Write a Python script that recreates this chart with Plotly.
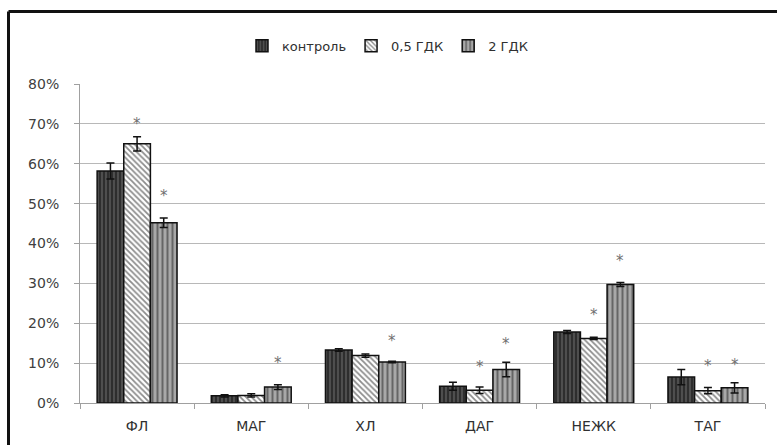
import plotly.graph_objects as go

categories = ["ФЛ", "МАГ", "ХЛ", "ДАГ", "НЕЖК", "ТАГ"]
series_names = ["контроль", "0,5 ГДК", "2 ГДК"]
control = [58.2, 1.8, 13.3, 4.2, 17.8, 6.5]
gdk05 = [65.0, 1.9, 11.9, 3.2, 16.2, 3.1]
gdk2 = [45.2, 4.0, 10.3, 8.4, 29.7, 3.8]
control_err = [2.0, 0.3, 0.3, 1.0, 0.4, 1.9]
gdk05_err = [1.8, 0.4, 0.4, 0.8, 0.3, 0.8]
gdk2_err = [1.2, 0.6, 0.2, 1.8, 0.5, 1.3]
# asterisk markers: (category, series index, height in %)
stars = [("ФЛ", 1, 70.0), ("ФЛ", 2, 52.0), ("МАГ", 2, 10.0), ("ХЛ", 2, 15.5),
         ("ДАГ", 1, 9.0), ("ДАГ", 2, 14.8), ("НЕЖК", 1, 22.0), ("НЕЖК", 2, 35.5),
         ("ТАГ", 1, 9.3), ("ТАГ", 2, 9.5)]

font = "DejaVu Sans"
styles = [
    dict(color="#2e2e2e", pattern=dict(shape="|", fgcolor="#8a8a8a", size=4, solidity=0.35)),
    dict(color="#ffffff", pattern=dict(shape="\\", fgcolor="#1a1a1a", size=4, solidity=0.45)),
    dict(color="#a8a8a8", pattern=dict(shape="|", fgcolor="#222222", size=5, solidity=0.4)),
]
vals = [control, gdk05, gdk2]
errs = [control_err, gdk05_err, gdk2_err]

fig = go.Figure()
for name, v, e, st in zip(series_names, vals, errs, styles):
    fig.add_trace(go.Bar(
        name=name, x=categories, y=[x / 100 for x in v],
        marker=dict(color=st["color"], pattern=st["pattern"],
                    line=dict(color="#111111", width=1.5)),
        error_y=dict(type="data", array=[x / 100 for x in e], color="#111111",
                     thickness=1.5, width=4),
    ))

bar_w = 685 / 6 * 0.7 / 3
for cat, si, h in stars:
    fig.add_annotation(x=cat, y=h / 100, xref="x", yref="y", text="*",
                       showarrow=False, xshift=(si - 1) * bar_w,
                       font=dict(size=15, color="#707070", family=font))

# outer frame (left and top edges visible in the picture)
left_x = (8.5 - 80) / 685
top_y = (403 - 11.5) / 319
fig.add_shape(type="line", xref="paper", yref="paper",
              x0=left_x, x1=left_x, y0=(403 - 460) / 319, y1=top_y,
              line=dict(color="#111111", width=3))
fig.add_shape(type="line", xref="paper", yref="paper",
              x0=left_x, x1=(800 - 80) / 685, y0=top_y, y1=top_y,
              line=dict(color="#111111", width=3))

fig.update_layout(
    width=777, height=445,
    margin=dict(l=80, r=12, t=84, b=42),
    paper_bgcolor="white", plot_bgcolor="white",
    barmode="group", bargap=0.3, bargroupgap=0,
    font=dict(family=font, size=14, color="#404040"),
    showlegend=True,
    legend=dict(orientation="h", x=(242 - 80) / 685, xanchor="left", y=1.12, yanchor="middle",
                font=dict(size=13, color="#303030"), itemwidth=30,
                traceorder="normal", tracegroupgap=0),
    xaxis=dict(showline=True, linecolor="#a0a0a0", linewidth=1,
               ticks="outside", tickson="boundaries", ticklen=5, tickcolor="#a0a0a0",
               showgrid=False, ticklabelstandoff=10,
               tickfont=dict(size=14, color="#303030")),
    yaxis=dict(range=[0, 0.8], dtick=0.1, tickformat=".0%", showline=True,
               linecolor="#a0a0a0", linewidth=1, ticks="outside", ticklen=5,
               tickcolor="#a0a0a0", showgrid=True, gridcolor="#b8b8b8", gridwidth=1,
               zeroline=False, ticklabelstandoff=12,
               tickfont=dict(size=14, color="#404040")),
)

fig.write_html("out.html", config={"displayModeBar": False},
               post_script="document.body.style.margin='0';document.body.style.overflow='hidden';")
